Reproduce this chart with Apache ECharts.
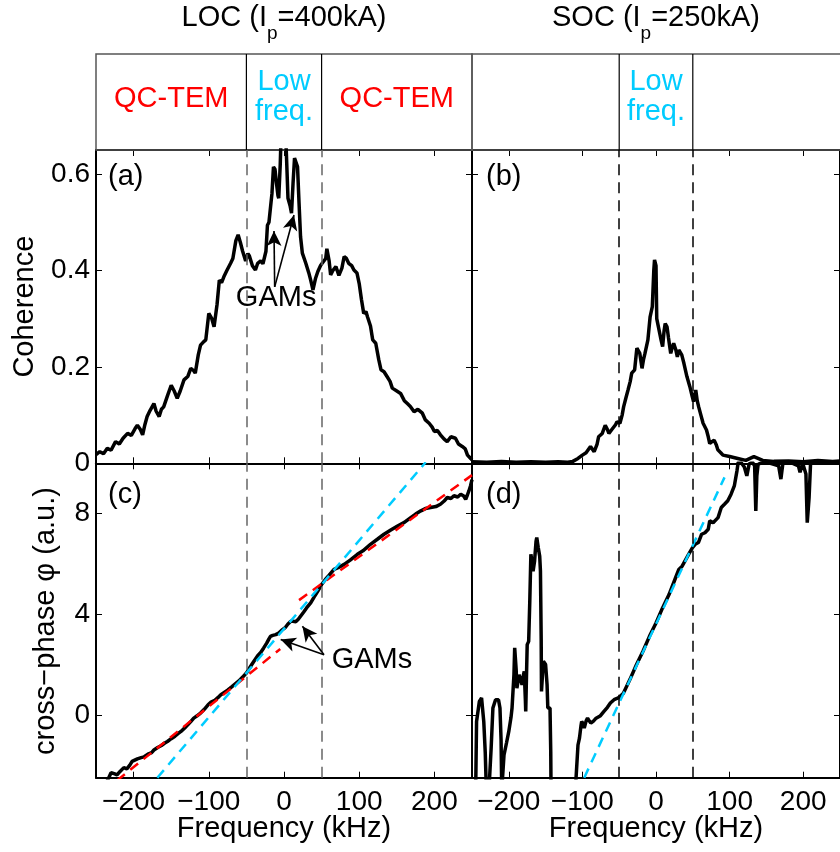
<!DOCTYPE html>
<html><head><meta charset="utf-8">
<script src="https://cdn.jsdelivr.net/npm/echarts@6/dist/echarts.min.js"></script>
<style>html,body{margin:0;padding:0;background:#fff}#c{width:840px;height:852px}</style>
</head><body><div id="c"></div><script>
const FONT = '"Liberation Sans", Arial, Helvetica, sans-serif';

// ---- tick values ----
const xTicks = [-200, -100, 0, 100, 200];
const cohTicks = [0, 0.2, 0.4, 0.6];
const phiTicks = [0, 4, 8];
const bandEdges = [-50, 50];

// ---- (a) LOC coherence: [kHz, coherence] ----
const cohLOC = [[-250,.018],[-245,.024],[-240,.020],[-235,.031],[-230,.027],[-224,.045],[-219,.040],[-214,.052],[-208,.062],[-203,.058],[-198,.072],[-195,.079],[-191,.070],[-188,.059],[-185,.080],[-182,.097],[-178,.110],[-173,.124],[-170,.108],[-166,.097],[-163,.112],[-160,.117],[-155,.140],[-150,.162],[-146,.150],[-142,.135],[-138,.150],[-133,.173],[-128,.180],[-124,.197],[-120,.192],[-118,.187],[-114,.225],[-111,.245],[-107,.252],[-104,.256],[-100,.311],[-96,.300],[-93,.283],[-89,.330],[-86,.380],[-83,.375],[-80,.387],[-76,.400],[-71,.415],[-68,.425],[-64,.462],[-61,.474],[-58,.458],[-55,.440],[-53,.443],[-51,.420],[-48,.435],[-46,.430],[-42,.410],[-38,.401],[-35,.415],[-31,.420],[-28,.414],[-24,.440],[-22,.494],[-20,.500],[-18,.504],[-16,.560],[-14,.615],[-12,.610],[-10,.581],[-8,.555],[-7,.550],[-5,.620],[-3.5,.700],[0,.720],[1,.700],[3,.650],[5.3,.550],[8,.535],[10,.519],[12,.580],[14,.633],[16,.635],[18,.615],[20,.540],[22,.470],[24.4,.436],[29,.415],[33,.395],[35.5,.380],[38.5,.360],[42,.384],[45,.398],[48.8,.411],[51,.408],[55.5,.425],[57,.445],[60,.420],[62,.391],[65,.400],[69,.408],[73,.390],[77,.405],[80,.429],[83,.425],[86,.415],[90,.410],[93,.401],[97,.395],[100,.373],[103,.340],[106,.311],[109,.315],[111,.304],[115,.285],[118,.256],[122,.249],[126,.215],[129,.194],[133,.190],[137,.180],[141,.170],[144,.156],[150,.150],[155,.145],[160,.130],[164,.124],[168,.118],[173,.107],[178,.112],[184,.104],[188,.090],[193,.083],[197,.075],[200,.066],[204,.068],[208,.059],[213,.050],[217,.045],[222,.055],[228,.052],[232,.040],[237,.035],[241,.030],[244,.017],[247,.012],[250,.007]];

// ---- (b) SOC coherence ----
const cohSOC = [[-250,.003],[-230,.002],[-210,.004],[-190,.002],[-170,.003],[-150,.002],[-133,.003],[-120,.002],[-113,.004],[-106,.010],[-100,.017],[-95,.022],[-89,.035],[-84,.024],[-80,.040],[-78,.055],[-73,.062],[-69,.079],[-66,.070],[-64,.062],[-60,.070],[-58,.066],[-55,.080],[-53,.086],[-49,.083],[-46,.100],[-44,.117],[-41,.135],[-38,.152],[-35,.170],[-33,.187],[-29,.194],[-26,.239],[-22,.228],[-19,.197],[-17,.215],[-15,.228],[-11,.256],[-8,.304],[-5,.325],[-3,.400],[-2,.422],[-1,.425],[0,.410],[1,.300],[3,.285],[5,.270],[7,.255],[9,.242],[11,.275],[12.5,.290],[15,.283],[17,.260],[20,.228],[22,.240],[24,.249],[27,.235],[29,.221],[31,.235],[33,.235],[35,.225],[38,.207],[42,.180],[46,.159],[49,.140],[51,.128],[54,.152],[56,.130],[58,.117],[61,.100],[64,.083],[68.6,.069],[71,.055],[73,.041],[76,.045],[79,.048],[82,.038],[84,.028],[88,.022],[91,.017],[100,.014],[111,.010],[122,.006],[133,.014],[145,.006],[160,.004],[180,.005],[200,.003],[220,.006],[240,.004],[250,.005]];

// ---- (c) LOC cross-phase ----
const phiLOC = [[-240,-2.9],[-233,-2.5],[-230,-2.3],[-228,-2.26],[-225,-2.35],[-222,-2.39],[-218,-2.25],[-213,-2.10],[-209,-2.15],[-205,-2.0],[-202,-1.85],[-200,-1.79],[-195,-1.75],[-190,-1.70],[-186,-1.67],[-180,-1.55],[-176,-1.50],[-173,-1.40],[-168,-1.30],[-163,-1.22],[-159,-1.13],[-155,-1.06],[-150,-0.95],[-145,-0.85],[-141,-0.75],[-137,-0.66],[-132,-0.52],[-128,-0.40],[-124,-0.27],[-120,-0.13],[-116,-0.05],[-111,0.07],[-106,0.22],[-101,0.40],[-97,0.51],[-92,0.58],[-88,0.68],[-84,0.80],[-80,0.88],[-75,0.98],[-70,1.10],[-66,1.20],[-60,1.35],[-55,1.50],[-50,1.66],[-45,1.90],[-40,2.13],[-35,2.35],[-31,2.48],[-27,2.66],[-23,2.85],[-20,3.02],[-18,3.12],[-15,3.16],[-11,3.19],[-7,3.25],[-2,3.39],[2,3.48],[5,3.60],[9,3.72],[12,3.72],[15.6,3.70],[19,3.80],[22,3.92],[26,4.08],[30,4.25],[35.5,4.45],[40,4.68],[45,4.92],[50,5.18],[55,5.38],[60,5.55],[66.5,5.78],[72,5.85],[80,5.98],[88,6.15],[97.6,6.38],[105,6.52],[115,6.78],[125,7.00],[133,7.18],[142,7.35],[151,7.51],[160,7.65],[168.5,7.84],[175,7.98],[182,8.11],[188,8.20],[195,8.24],[202,8.28],[208,8.37],[213,8.50],[217,8.64],[222,8.60],[226,8.71],[231,8.66],[235,8.77],[239,8.70],[241.6,8.57],[244,8.75],[246,8.91],[248,9.10],[250,9.35]];
const fitRedLeft = [[-222,-2.61],[-5,2.62]];
const fitRedRight = [[20,4.56],[250,9.53]];
const fitCyanLOC = [[-168.4,-2.5],[188.4,10.04]];

// ---- (d) SOC cross-phase (values below -2.5 / above 10 fall outside the frame) ----
const phiSOC = [[-250,-3],[-245,-3],[-243.8,-0.27],[-240,0.53],[-237,0.67],[-236,0.60],[-234,-0.27],[-232,-1.5],[-230.5,-3],[-227,-3],[-224,-1.33],[-221.6,0.27],[-218,0.60],[-216,0.62],[-214,0.60],[-212,0.27],[-210.5,-1.0],[-209.6,-3],[-207,-3],[-206.5,-1.59],[-203,-1.1],[-200,-0.66],[-197,-0.1],[-195.6,0.27],[-193,1.6],[-192,2.66],[-190,1.8],[-189,1.06],[-186,1.59],[-183,1.3],[-182,1.19],[-180,1.6],[-179,1.73],[-177.5,0.6],[-177,0.13],[-176,1.5],[-175,2.79],[-173,2.92],[-171.5,4.5],[-170,6.38],[-168,6.0],[-167,5.71],[-165,6.11],[-163,6.9],[-162,7.05],[-160.5,6.75],[-160,6.65],[-158,6.3],[-157,5.71],[-156,3.0],[-155.6,0.93],[-154,1.7],[-153,2.13],[-151,2.2],[-150,2.0],[-148,1.2],[-147,0.27],[-144,0.27],[-143,-1.5],[-142.6,-3],[-125,-3],[-109.5,-3],[-108.6,-2.5],[-106,-1.2],[-104,-0.93],[-102,-0.45],[-101,-0.27],[-99,-0.35],[-97.5,-0.53],[-95,-0.25],[-93,-0.13],[-90.5,-0.25],[-88.6,-0.33],[-85,-0.25],[-82,-0.15],[-79.8,-0.2],[-76,-0.05],[-71,0.13],[-66,0.30],[-62,0.47],[-57,0.60],[-53,0.65],[-50,0.70],[-44.3,0.86],[-35.5,1.40],[-26.6,1.99],[-17.7,2.53],[-8.9,3.12],[0,3.65],[8.9,4.25],[17.7,4.78],[26.6,5.45],[31,5.78],[35.5,5.91],[44.3,6.38],[49.6,6.65],[53.2,6.78],[57.6,6.85],[62,7.18],[66.5,7.24],[71,7.38],[73,7.71],[77.6,7.64],[84.3,7.84],[88.7,8.24],[93,8.37],[97.5,8.51],[102,8.77],[106.4,9.10],[110,9.70],[111.7,10.04],[115,10.05],[120,9.85],[123.4,9.50],[126.5,9.97],[131,10.05],[134,9.9],[135.6,8.11],[137,9.5],[138.7,9.95],[144.4,10.05],[155.5,10.0],[166.6,9.9],[169.7,9.37],[172.4,10.0],[182,10.05],[193.5,9.9],[195.7,9.64],[199.3,10.0],[203.7,9.57],[205.5,7.64],[208,8.64],[210,10.0],[222,10.05],[240,10.05],[250,10.05]];
const fitCyanSOC = [[-97.5,-2.5],[93.1,9.44]];

// ---- annotations: arrows [fromF, fromV, toF, toV] and label anchor ----
const gamArrowsA = [[-12.4,0.366,-13.3,0.482],[-12.4,0.366,13.3,0.515]];
const gamLabelA = [-10.5, 0.342];
const gamArrowsC = [[53.2,2.39,-4.4,2.99],[53.2,2.39,24.5,3.52]];
const gamLabelC = [117, 2.19];

const panelLetters = ['(a)','(b)','(c)','(d)'];

// ---------------- layout ----------------
const grids = [
  {left:96, top:150, width:376, height:313.3},
  {left:472, top:150, width:376, height:313.3},
  {left:96, top:463.3, width:376, height:314.4},
  {left:472, top:463.3, width:376, height:314.4}
];
const fmt = v => (v < 0 ? '\u2212' + Math.abs(v) : String(v));
const xAxes = [], yAxes = [];
grids.forEach((g, i) => {
  const lower = i >= 2, leftCol = (i % 2 === 0);
  const base = {type:'value', gridIndex:i, min:-250, max:250, splitLine:{show:false},
    axisLine:{show:true, onZero:false, lineStyle:{color:'#000', width:2}},
    axisTick:{show:true, inside:true, length:6, customValues:xTicks, lineStyle:{color:'#000', width:1}}};
  xAxes.push(Object.assign({}, base, {position:'bottom',
    axisLabel:{show:lower, customValues:xTicks, formatter:fmt, fontSize:28, fontFamily:FONT, color:'#000', margin:11}}));
  xAxes.push(Object.assign({}, base, {position:'top', axisLabel:{show:false}}));
  const yt = lower ? phiTicks : cohTicks;
  const ybase = {type:'value', gridIndex:i, min: lower ? -2.5 : 0, max: lower ? 10 : 0.65, splitLine:{show:false},
    axisLine:{show:true, onZero:false, lineStyle:{color:'#000', width:2}},
    axisTick:{show:true, inside:true, length:6, customValues:yt, lineStyle:{color:'#000', width:1}}};
  yAxes.push(Object.assign({}, ybase, {position:'left',
    axisLabel:{show:leftCol, customValues:yt, formatter:fmt, fontSize:28, fontFamily:FONT, color:'#000', margin:6}}));
  yAxes.push(Object.assign({}, ybase, {position:'right', axisLabel:{show:false}}));
});

const CYAN = '#00CCFF', RED = '#FF0000';
function blackLine(i, data) {
  return {type:'line', xAxisIndex:2*i, yAxisIndex:2*i, data:data, showSymbol:false, symbol:'none',
    clip:true, z:3, lineStyle:{color:'#000', width:3.5}, silent:true,
    markLine:{silent:true, symbol:'none', label:{show:false}, animation:false,
      lineStyle:{type:[11,7], color: (i % 2 === 0) ? '#666' : '#000', width:1.5},
      data: bandEdges.map(e => ({xAxis:e}))}};
}
function fitLine(i, data, color) {
  return {type:'line', xAxisIndex:2*i, yAxisIndex:2*i, data:data, showSymbol:false, symbol:'none',
    clip:true, z:4, silent:true, lineStyle:{color:color, width:2.5, type:[10,7]}};
}
function arrows(i, arr) {
  return {type:'line', xAxisIndex:2*i, yAxisIndex:2*i, data:[], z:5, silent:true,
    markLine:{silent:true, animation:false, symbol:['none','arrow'], symbolSize:[11,15], label:{show:false},
      lineStyle:{type:'solid', color:'#000', width:1.6},
      data: arr.map(a => [{coord:[a[0],a[1]]},{coord:[a[2],a[3]]}])}};
}

const series = [
  blackLine(0, cohLOC), blackLine(1, cohSOC), blackLine(2, phiLOC), blackLine(3, phiSOC),
  fitLine(2, fitRedLeft, RED), fitLine(2, fitRedRight, RED), fitLine(2, fitCyanLOC, CYAN),
  fitLine(3, fitCyanSOC, CYAN),
  arrows(0, gamArrowsA), arrows(2, gamArrowsC)
];

const chart = echarts.init(document.getElementById('c'), null, {renderer:'canvas'});
chart.setOption({animation:false, backgroundColor:'#fff', grid:grids, xAxis:xAxes, yAxis:yAxes, series:series});

// ---------------- text & header boxes ----------------
const mctx = document.createElement('canvas').getContext('2d');
function tw(t, size){ mctx.font = size + 'px ' + FONT; return mctx.measureText(t).width; }
function txt(x, y, t, size, color, align, rot) {
  return {type:'text', x:x, y:y, rotation: rot || 0, silent:true, z:10,
    style:{text:t, font: size + 'px ' + FONT, fill: color || '#000',
      align: align || 'center', verticalAlign:'middle', textAlign: align || 'center', textVerticalAlign:'middle'}};
}
const els = [];
function subTitle(cx, pre, sub, post) {
  const w1 = tw(pre, 29), w2 = tw(sub, 19), w3 = tw(post, 29);
  const x0 = cx - (w1 + w2 + w3) / 2;
  els.push(txt(x0, 18, pre, 29, '#000', 'left'));
  els.push(txt(x0 + w1, 34, sub, 19, '#000', 'left'));
  els.push(txt(x0 + w1 + w2, 18, post, 29, '#000', 'left'));
}
const px = (i, f) => chart.convertToPixel({xAxisIndex:2*i}, f);
const py = (i, v) => chart.convertToPixel({yAxisIndex:2*i}, v);

const cL = px(0, 0), cR = px(1, 0);
subTitle(cL, 'LOC (I', 'p', '=400kA)');
subTitle(cR, 'SOC (I', 'p', '=250kA)');

// header boxes
const hTop = 54, hBot = 150;
[0, 1].forEach(i => {
  const g = grids[i];
  els.push({type:'rect', silent:true, z:1, shape:{x:g.left, y:hTop, width:g.width, height:hBot - hTop},
    style:{fill:'none', stroke:'#555', lineWidth:1.5}});
  bandEdges.forEach(e => {
    const x = px(i, e);
    els.push({type:'line', silent:true, z:2, shape:{x1:x, y1:hTop, x2:x, y2:hBot}, style:{stroke:'#000', lineWidth:1.2}});
  });
  const xm = px(i, 0);
  els.push(txt(xm, 82, 'Low', 29, CYAN));
  els.push(txt(xm, 112, 'freq.', 29, CYAN));
});
const xa = px(0, -50), xb = px(0, 50);
els.push(txt((grids[0].left + xa) / 2, 99, 'QC-TEM', 29, RED));
els.push(txt((xb + grids[0].left + grids[0].width) / 2, 99, 'QC-TEM', 29, RED));

// panel letters
els.push(txt(108, 177, panelLetters[0], 29, '#000', 'left'));
els.push(txt(486, 177, panelLetters[1], 29, '#000', 'left'));
els.push(txt(108, 495, panelLetters[2], 29, '#000', 'left'));
els.push(txt(486, 495, panelLetters[3], 29, '#000', 'left'));

// GAMs labels
els.push(txt(px(0, gamLabelA[0]), py(0, gamLabelA[1]), 'GAMs', 29));
els.push(txt(px(2, gamLabelC[0]), py(2, gamLabelC[1]), 'GAMs', 29));

// axis titles
els.push(txt(cL, 829, 'Frequency (kHz)', 29));
els.push(txt(cR, 829, 'Frequency (kHz)', 29));
els.push(txt(24.5, (150 + 463.3) / 2, 'Coherence', 29, '#000', 'center', Math.PI / 2));
els.push(txt(46, 621, 'cross\u2212phase \u03c6 (a.u.)', 29, '#000', 'center', Math.PI / 2));

chart.setOption({graphic:{elements:els}});
</script></body></html>
